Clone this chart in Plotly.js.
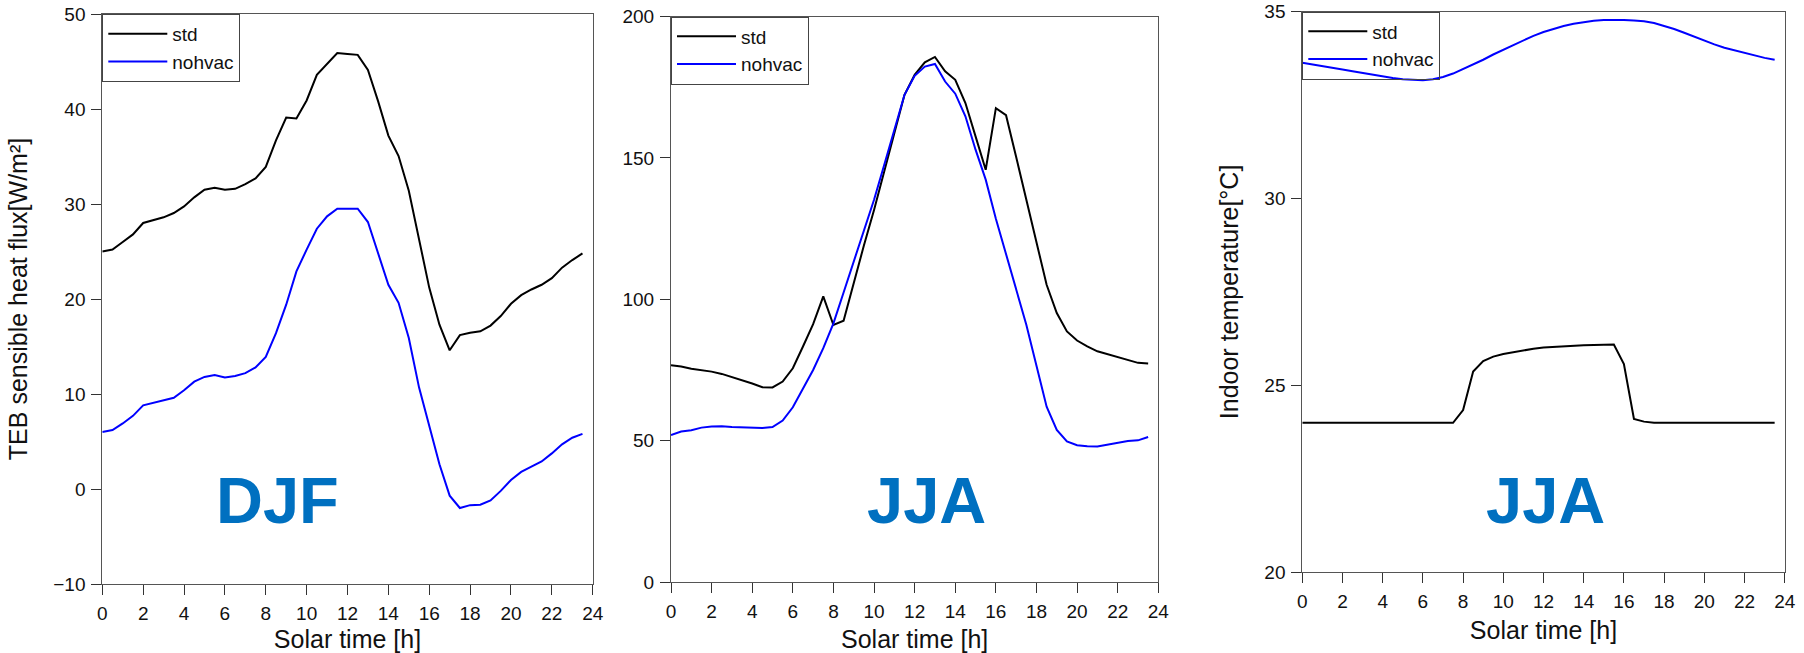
<!DOCTYPE html>
<html>
<head>
<meta charset="utf-8">
<script src="https://cdn.plot.ly/plotly-3.0.1.min.js"></script>
<style>html,body{margin:0;padding:0;background:#fff;} #chart{width:1804px;height:653px;}</style>
</head>
<body>
<div id="chart"></div>
<script>
// Solar time (hours)
const hours = [0,0.5,1,1.5,2,2.5,3,3.5,4,4.5,5,5.5,6,6.5,7,7.5,8,8.5,9,9.5,10,10.5,11,11.5,
               12,12.5,13,13.5,14,14.5,15,15.5,16,16.5,17,17.5,18,18.5,19,19.5,20,20.5,21,21.5,22,22.5,23,23.5];

// Panel 1: DJF, TEB sensible heat flux [W/m2]
const djfStd = [25.0,25.2,26.0,26.8,28.0,28.3,28.6,29.05,29.75,30.7,31.5,31.7,31.5,31.6,32.1,32.7,
                33.9,36.7,39.1,39.0,40.9,43.6,44.8,45.9,45.8,45.7,44.1,40.8,37.2,35.05,31.4,26.1,
                21.2,17.3,14.6,16.2,16.45,16.6,17.2,18.2,19.5,20.4,21.0,21.5,22.2,23.3,24.1,24.8];
const djfNohvac = [6.0,6.2,6.9,7.7,8.8,9.05,9.3,9.6,10.4,11.3,11.8,12.0,11.75,11.9,12.2,12.8,
                   13.9,16.4,19.4,22.9,25.2,27.4,28.7,29.5,29.5,29.5,28.1,24.8,21.5,19.6,15.9,10.7,
                   6.5,2.6,-0.7,-2.0,-1.7,-1.65,-1.2,-0.2,0.95,1.8,2.35,2.9,3.75,4.7,5.4,5.8];

// Panel 2: JJA, TEB sensible heat flux [W/m2]
const jjaStd = [76.7,76.2,75.4,75.0,74.4,73.6,72.5,71.5,70.2,68.9,68.8,70.9,75.6,83.3,91.2,101.0,
                90.9,92.4,106,119,131.6,145.2,158.7,172.3,179.4,183.8,185.7,180.6,177.6,169.4,157.6,145.8,
                167.6,165.1,150.3,135.1,120.3,105.1,95.1,88.6,85.4,83.3,81.6,80.6,79.4,78.6,77.5,77.3];
const jjaNohvac = [52.0,53.2,53.7,54.6,55.0,55.1,54.8,54.7,54.5,54.5,54.8,57.1,61.8,68.3,75.0,82.7,
                   91.5,102.4,113.5,124.5,135.2,147.5,160,172.3,179.0,182.3,183.2,177.0,172.7,164.7,152.9,142.3,
                   128.5,116,104,91,76.5,62.0,53.8,49.7,48.4,48.0,47.9,48.6,49.1,49.9,50.1,51.3];

// Panel 3: JJA, indoor temperature [degC]
const tinStd = [24.0,24.0,24.0,24.0,24.0,24.0,24.0,24.0,24.0,24.0,24.0,24.0,24.0,24.0,24.0,24.0,
                24.34,25.37,25.65,25.77,25.84,25.89,25.94,25.98,26.01,26.03,26.04,26.05,26.07,26.08,26.09,26.09,
                25.57,24.10,24.03,24.0,24.0,24.0,24.0,24.0,24.0,24.0,24.0,24.0,24.0,24.0,24.0,24.0];
const tinNohvac = [33.63,33.59,33.55,33.50,33.45,33.40,33.35,33.30,33.26,33.22,33.19,33.17,33.16,33.19,33.25,33.34,
                   33.46,33.58,33.71,33.85,33.98,34.11,34.23,34.35,34.45,34.54,34.61,34.67,34.72,34.75,34.77,34.78,
                   34.77,34.76,34.74,34.69,34.62,34.53,34.43,34.32,34.21,34.12,34.03,33.96,33.89,33.82,33.76,33.71];

const seriesNames = ['std','nohvac'];
const seasonLabels = ['DJF','JJA','JJA'];
const xTicks = [0,2,4,6,8,10,12,14,16,18,20,22,24];

const FONT = 'Liberation Sans, Arial, sans-serif';
const W = 1804, H = 653;
const colors = ['#000000', '#0000ff'];

function xd(a,b){return [a/W, b/W];}
function yd(top,bottom){return [1-bottom/H, 1-top/H];}

const panels = [
  {std: djfStd, nov: djfNohvac, xdom: xd(102.3,592.7), ydom: yd(14,584), yr:[-10,50], dt:10,
   ytitle:'TEB sensible heat flux[W/m²]', lab:{x:8.58, y:-1.2}},
  {std: jjaStd, nov: jjaNohvac, xdom: xd(671,1158.3), ydom: yd(16.5,582), yr:[0,200], dt:50,
   ytitle:'', lab:{x:12.6, y:29.0}},
  {std: tinStd, nov: tinNohvac, xdom: xd(1302.3,1784.7), ydom: yd(11.5,572.3), yr:[20,35], dt:5,
   ytitle:'Indoor temperature[°C]', lab:{x:12.12, y:21.92}}
];

const traces = [];
const layout = {
  width: W, height: H,
  margin: {l:0, r:0, t:0, b:0},
  paper_bgcolor: '#fff', plot_bgcolor: '#fff',
  font: {family: FONT, color: '#111'},
  showlegend: true,
  annotations: []
};

panels.forEach((p, i) => {
  const n = i === 0 ? '' : String(i+1);
  const legName = 'legend' + n;
  [p.std, p.nov].forEach((vals, k) => {
    traces.push({
      x: hours, y: vals, type: 'scatter', mode: 'lines',
      name: seriesNames[k],
      line: {color: colors[k], width: 2},
      xaxis: 'x' + n, yaxis: 'y' + n,
      legend: legName, showlegend: true, hoverinfo: 'skip'
    });
  });
  const axBase = {
    showline: true, linecolor: '#555', linewidth: 1, mirror: true,
    ticks: 'outside', ticklen: 10, tickwidth: 1, tickcolor: '#333',
    showgrid: false, zeroline: false, ticklabelstandoff: 2,
    tickfont: {family: FONT, size: 19, color: '#111'}
  };
  layout['xaxis' + n] = Object.assign({}, axBase, {
    domain: p.xdom, range: [0, 24], tickmode: 'array', tickvals: xTicks, ticktext: xTicks.map(String),
    anchor: 'y' + n,
    title: {text: 'Solar time [h]', font: {family: FONT, size: 25, color: '#111'}, standoff: 10}
  });
  layout['yaxis' + n] = Object.assign({}, axBase, {
    domain: p.ydom, range: p.yr, dtick: p.dt, tick0: 0, anchor: 'x' + n,
    title: {text: p.ytitle, font: {family: FONT, size: 25, color: '#111'}, standoff: 18}
  });
  layout[legName] = {
    x: p.xdom[0], y: p.ydom[1], xanchor: 'left', yanchor: 'top',
    xref: 'paper', yref: 'paper',
    bgcolor: 'rgba(0,0,0,0)', bordercolor: '#444', borderwidth: 1,
    font: {family: FONT, size: 19, color: '#111'},
    itemwidth: 59, tracegroupgap: 0
  };
  layout.annotations.push({
    xref: 'x' + n, yref: 'y' + n, x: p.lab.x, y: p.lab.y,
    text: '<b>' + seasonLabels[i] + '</b>', showarrow: false,
    font: {family: FONT, size: 65, color: '#0070c0'},
    xanchor: 'center', yanchor: 'middle'
  });
});

Plotly.newPlot('chart', traces, layout, {staticPlot: true, displayModeBar: false});
</script>
</body>
</html>
